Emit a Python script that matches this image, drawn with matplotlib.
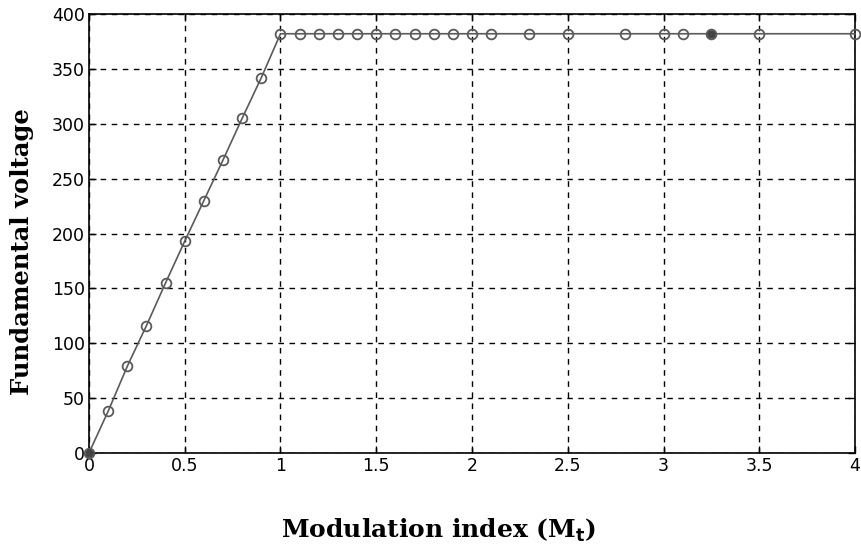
import matplotlib
matplotlib.use("Agg")
import matplotlib.pyplot as plt
import numpy as np

# modulation index values
m_index = [0, 0.1, 0.2, 0.3, 0.4, 0.5, 0.6, 0.7, 0.8, 0.9, 1.0,
           1.1, 1.2, 1.3, 1.4, 1.5, 1.6, 1.7, 1.8, 1.9, 2.0,
           2.1, 2.3, 2.5, 2.8, 3.0, 3.1, 3.25, 3.5, 4.0]
v_fund = [0, 38, 79, 116, 155, 193, 230, 267, 305, 342, 382,
          382, 382, 382, 382, 382, 382, 382, 382, 382, 382,
          382, 382, 382, 382, 382, 382, 382, 382, 382]

x_ticks = [0, 0.5, 1, 1.5, 2, 2.5, 3, 3.5, 4]
y_ticks = [0, 50, 100, 150, 200, 250, 300, 350, 400]

fig = plt.figure(figsize=(8.62, 5.53), dpi=100)
ax = fig.add_axes([0.1032, 0.1808, 0.8887, 0.7939])

ax.plot(m_index, v_fund, color="#5a5a5a", lw=1.2, marker="o", ms=7,
        mfc="none", mec="#5a5a5a", mew=1.3, clip_on=False, zorder=3)
# two dark points (origin and the blob near 3.25)
ax.plot([0, 3.25], [0, 382], ls="none", marker="o", ms=5, color="#444444",
        clip_on=False, zorder=4)

ax.set_xlim(0, 4)
ax.set_ylim(0, 400)
ax.set_xticks(x_ticks)
ax.set_xticklabels(["0", "0.5", "1", "1.5", "2", "2.5", "3", "3.5", "4"])
ax.set_yticks(y_ticks)

ax.grid(True, color="black", ls=(0, (4, 4)), lw=1.0)
ax.tick_params(direction="in", top=True, right=True, length=5, width=1,
               labelsize=12.5, pad=3)
for s in ax.spines.values():
    s.set_linewidth(1.2)

ax.set_xlabel(r"Modulation index (M$_\mathbf{t}$)", family="DejaVu Serif",
              fontweight="bold", fontsize=18)
ax.set_ylabel("Fundamental voltage", family="DejaVu Serif",
              fontweight="bold", fontsize=17.5)
ax.xaxis.set_label_coords(0.457, -0.145)
ax.yaxis.set_label_coords(-0.072, 0.458)

fig.savefig("out.png", dpi=100)
